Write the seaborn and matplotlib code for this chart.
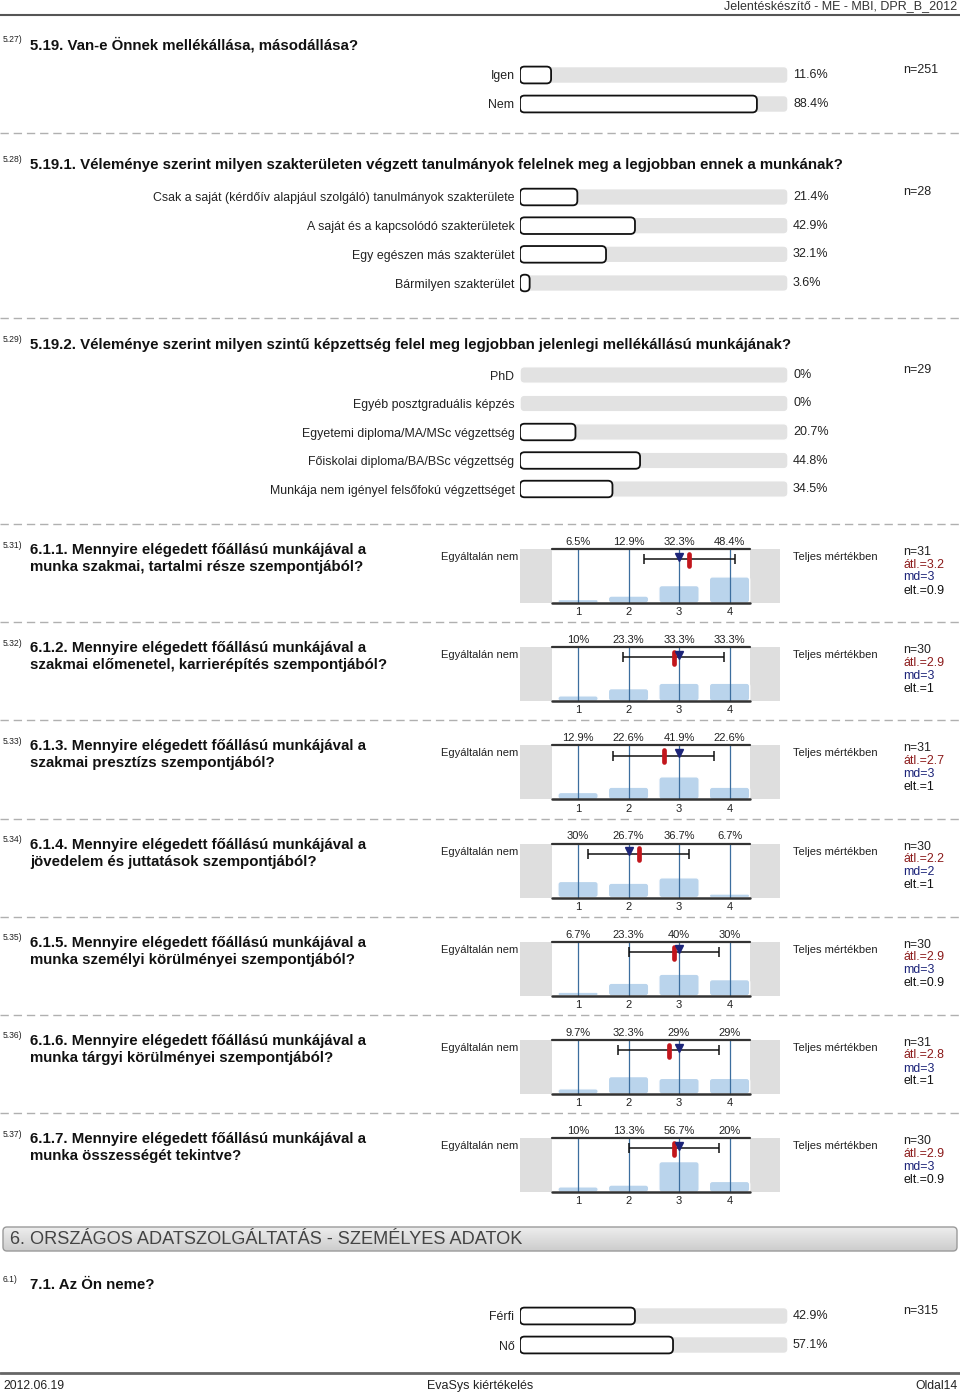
import numpy as np
import pandas as pd
import matplotlib
matplotlib.use("Agg")
import matplotlib.pyplot as plt
from matplotlib.patches import FancyBboxPatch
import matplotlib.transforms as mtransforms
import seaborn as sns

W, H = 960, 1395

# ---- data ----
q527_labels = ["Igen", "Nem"]
q527_pct = [11.6, 88.4]
q527_n = 251

q528_labels = ["Csak a saját (kérdőív alapjául szolgáló) tanulmányok szakterülete",
               "A saját és a kapcsolódó szakterületek",
               "Egy egészen más szakterület",
               "Bármilyen szakterület"]
q528_pct = [21.4, 42.9, 32.1, 3.6]
q528_n = 28

q529_labels = ["PhD",
               "Egyéb posztgraduális képzés",
               "Egyetemi diploma/MA/MSc végzettség",
               "Főiskolai diploma/BA/BSc végzettség",
               "Munkája nem igényel felsőfokú végzettséget"]
q529_pct = [0, 0, 20.7, 44.8, 34.5]
q529_n = 29

scale_codes = ["5.31)", "5.32)", "5.33)", "5.34)", "5.35)", "5.36)", "5.37)"]
scale_titles = [
    ("6.1.1. Mennyire elégedett főállású munkájával a", "munka szakmai, tartalmi része szempontjából?"),
    ("6.1.2. Mennyire elégedett főállású munkájával a", "szakmai előmenetel, karrierépítés szempontjából?"),
    ("6.1.3. Mennyire elégedett főállású munkájával a", "szakmai presztízs szempontjából?"),
    ("6.1.4. Mennyire elégedett főállású munkájával a", "jövedelem és juttatások szempontjából?"),
    ("6.1.5. Mennyire elégedett főállású munkájával a", "munka személyi körülményei szempontjából?"),
    ("6.1.6. Mennyire elégedett főállású munkájával a", "munka tárgyi körülményei szempontjából?"),
    ("6.1.7. Mennyire elégedett főállású munkájával a", "munka összességét tekintve?"),
]
scale_pct = [
    [6.5, 12.9, 32.3, 48.4],
    [10, 23.3, 33.3, 33.3],
    [12.9, 22.6, 41.9, 22.6],
    [30, 26.7, 36.7, 6.7],
    [6.7, 23.3, 40, 30],
    [9.7, 32.3, 29, 29],
    [10, 13.3, 56.7, 20],
]
scale_n = [31, 30, 31, 30, 30, 31, 30]
scale_mean = [3.2, 2.9, 2.7, 2.2, 2.9, 2.8, 2.9]
scale_md = [3, 3, 3, 2, 3, 3, 3]
scale_sd = [0.9, 1, 1, 1, 0.9, 1, 0.9]
scale_ticks = ["1", "2", "3", "4"]

q61_labels = ["Férfi", "Nő"]
q61_pct = [42.9, 57.1]
q61_n = 315

# ---- setup ----
sns.set_theme(style="white")
plt.rcParams["font.family"] = ["Liberation Sans", "DejaVu Sans"]

fig = plt.figure(figsize=(W / 100, H / 100), dpi=100)
page = fig.add_axes([0, 0, 1, 1])
page.set_xlim(0, W)
page.set_ylim(H, 0)
page.axis("off")

TITLE_FS = 10.8
LABEL_FS = 8.9
PCT_FS = 9
SCALE_FS = 8
STAT_FS = 8.9
SMALL_FS = 6.2


def px_axes(x0, y0, x1, y1):
    ax = fig.add_axes([x0 / W, 1 - y1 / H, (x1 - x0) / W, (y1 - y0) / H])
    ax.set_facecolor("none")
    return ax


def round_bars(ax, px_w, px_h, radius_px, skip_empty=True):
    # swap seaborn's rectangles for rounded ones (same size/colour)
    x0, x1 = ax.get_xlim()
    y0, y1 = ax.get_ylim()
    ux = abs(x1 - x0) / px_w
    uy = abs(y1 - y0) / px_h
    rects = list(ax.patches)
    for p in rects:
        x, y, w, h = p.get_x(), p.get_y(), p.get_width(), p.get_height()
        fc, ec, lw, z = p.get_facecolor(), p.get_edgecolor(), p.get_linewidth(), p.get_zorder()
        p.remove()
        if skip_empty and (w == 0 or h == 0):
            continue
        if h < 0:
            y, h = y + h, -h
        r = min(radius_px, abs(w) / ux / 2, abs(h) / uy / 2) * ux
        ax.add_patch(FancyBboxPatch((x, y), w, h,
                                    boxstyle=f"round,pad=0,rounding_size={r}",
                                    mutation_aspect=uy / ux,
                                    fc=fc, ec=ec, lw=lw, zorder=z))


def question_title(y, code, text):
    page.text(3, y - 5, code, fontsize=SMALL_FS, va="center", color="#222")
    page.text(30, y, text, fontsize=TITLE_FS, fontweight="bold", va="center", color="#111")


def dashed(y):
    page.plot([0, W], [y, y], color="#b0b0b0", lw=1, ls=(0, (6, 3.5)))


def hbar_block(labels, pct, y_first, step, n):
    rows = len(labels)
    x0, x1 = 520, 788
    y0 = y_first - step / 2
    y1 = y_first + step * (rows - 1) + step / 2
    ax = px_axes(x0, y0, x1, y1)
    df = pd.DataFrame({"label": labels, "pct": pct, "track": [100] * rows})
    sns.barplot(data=df, y="label", x="track", orient="h", color="#e2e2e2",
                width=0.58, saturation=1, ax=ax, zorder=1)
    sns.barplot(data=df, y="label", x="pct", orient="h", color="white",
                edgecolor="#111", linewidth=1.3, width=0.58, saturation=1, ax=ax, zorder=2)
    ax.set_xlim(0, 100)
    ax.set_ylim(rows - 0.5, -0.5)
    round_bars(ax, x1 - x0, y1 - y0, 4.5)
    for s in ax.spines.values():
        s.set_visible(False)
    ax.set_xticks([])
    ax.set_xlabel("")
    ax.set_ylabel("")
    ax.tick_params(axis="y", length=0, pad=4, labelsize=LABEL_FS, labelcolor="#222")
    trans = mtransforms.blended_transform_factory(ax.transAxes, ax.transData)
    for i, v in enumerate(pct):
        ax.text(1 + 5 / (x1 - x0), i, f"{v:g}%", transform=trans, va="center",
                fontsize=PCT_FS, color="#222")
    page.text(903, y_first - 5, f"n={n}", fontsize=PCT_FS, va="center", color="#222")


def scale_block(y_top, pct, mean, md, sd, n):
    fh = 54
    ax = px_axes(520, y_top, 780, y_top + fh)
    df = pd.DataFrame({"val": scale_ticks, "pct": pct})
    sns.barplot(data=df, x="val", y="pct", color="#bad4ec", width=0.8,
                saturation=1, ax=ax, zorder=2)
    lo, hi = -1.15, 4.0
    ax.set_xlim(lo, hi)
    ax.set_ylim(0, 100)
    round_bars(ax, 260, fh, 3)
    left, right = -0.52, 3.41
    ax.axvspan(lo, left, color="#dedede", lw=0, zorder=0)
    ax.axvspan(right, hi, color="#dedede", lw=0, zorder=0)
    ax.vlines(range(4), 0, 100, color="#3c6e9f", lw=0.9, zorder=3)
    ax.plot([left, right], [100, 100], color="#333", lw=1.6, zorder=4, clip_on=False)
    ax.plot([left, right], [0, 0], color="#333", lw=1.8, zorder=4, clip_on=False)
    ax.errorbar(mean - 1, 81, xerr=sd, color="#111", lw=1.1, capsize=3.5,
                capthick=1.1, zorder=5)
    ax.plot([mean - 1, mean - 1], [69, 91], color="#c2161c", lw=3.4,
            solid_capstyle="round", zorder=6)
    ax.plot(md - 1, 86, marker="v", ms=5.5, color="#1c2479", zorder=7, ls="none")
    for s in ax.spines.values():
        s.set_visible(False)
    ax.set_xticks(range(4))
    ax.set_xticklabels(scale_ticks)
    ax.set_yticks([])
    ax.set_xlabel("")
    ax.set_ylabel("")
    ax.tick_params(axis="x", length=0, pad=3, labelsize=SCALE_FS, labelcolor="#222")
    for i, v in enumerate(pct):
        ax.text(i, 104, f"{v:g}%", ha="center", va="bottom", fontsize=SCALE_FS,
                color="#222", clip_on=False)
    page.text(441, y_top + 8, "Egyáltalán nem", fontsize=SCALE_FS, va="center", color="#222")
    page.text(793, y_top + 8, "Teljes mértékben", fontsize=SCALE_FS, va="center", color="#222")
    page.text(903, y_top + 3, f"n={n}", fontsize=STAT_FS, va="center", color="#222")
    page.text(903, y_top + 15.5, f"átl.={mean:g}", fontsize=STAT_FS, va="center", color="#8b1a1a")
    page.text(903, y_top + 28.5, f"md={md:g}", fontsize=STAT_FS, va="center", color="#1c2479")
    page.text(903, y_top + 41.5, f"elt.={sd:g}", fontsize=STAT_FS, va="center", color="#111")


# ---- header ----
page.text(957, 6, "Jelentéskészítő - ME - MBI, DPR_B_2012", ha="right", va="center",
          fontsize=9, color="#333")
page.plot([0, W], [15, 15], color="#555", lw=1.5)

# ---- 5.27 ----
question_title(45, "5.27)", "5.19. Van-e Önnek mellékállása, másodállása?")
hbar_block(q527_labels, q527_pct, 75, 29, q527_n)
dashed(133)

# ---- 5.28 ----
question_title(165, "5.28)", "5.19.1. Véleménye szerint milyen szakterületen végzett "
               "tanulmányok felelnek meg a legjobban ennek a munkának?")
hbar_block(q528_labels, q528_pct, 197, 28.67, q528_n)
dashed(318)

# ---- 5.29 ----
question_title(345, "5.29)", "5.19.2. Véleménye szerint milyen szintű képzettség felel "
               "meg legjobban jelenlegi mellékállású munkájának?")
hbar_block(q529_labels, q529_pct, 375, 28.5, q529_n)

# ---- 5.31 - 5.37 ----
for k in range(len(scale_pct)):
    yt = 549 + k * 98.2
    dashed(yt - 25)
    page.text(3, yt - 4, scale_codes[k], fontsize=SMALL_FS, va="center", color="#222")
    page.text(30, yt + 1, scale_titles[k][0], fontsize=TITLE_FS, fontweight="bold",
              va="center", color="#111")
    page.text(30, yt + 18, scale_titles[k][1], fontsize=TITLE_FS, fontweight="bold",
              va="center", color="#111")
    scale_block(yt, scale_pct[k], scale_mean[k], scale_md[k], scale_sd[k], scale_n[k])

# ---- section header ----
box = FancyBboxPatch((3, 1227), 954, 24, boxstyle="round,pad=0,rounding_size=4",
                     fc="none", ec="#9a9a9a", lw=1, zorder=3)
page.add_patch(box)
grad = np.linspace(0.93, 0.80, 50).reshape(-1, 1)
img = page.imshow(grad, cmap="gray", vmin=0, vmax=1, extent=(3, 957, 1251, 1227),
                  aspect="auto", zorder=2)
img.set_clip_path(box)
page.set_xlim(0, W)
page.set_ylim(H, 0)
page.text(10, 1239, "6. ORSZÁGOS ADATSZOLGÁLTATÁS - SZEMÉLYES ADATOK", fontsize=13.1,
          va="center", color="#444", zorder=4)

# ---- 6.1 ----
question_title(1285, "6.1)", "7.1. Az Ön neme?")
hbar_block(q61_labels, q61_pct, 1316, 29, q61_n)

# ---- footer ----
page.plot([0, W], [1373, 1373], color="#666", lw=2)
page.text(3, 1386, "2012.06.19", va="center", fontsize=8.7, color="#222")
page.text(480, 1386, "EvaSys kiértékelés", ha="center", va="center", fontsize=9, color="#222")
page.text(957, 1386, "Oldal14", ha="right", va="center", fontsize=8.7, color="#222")

fig.savefig("out.png", dpi=100)
